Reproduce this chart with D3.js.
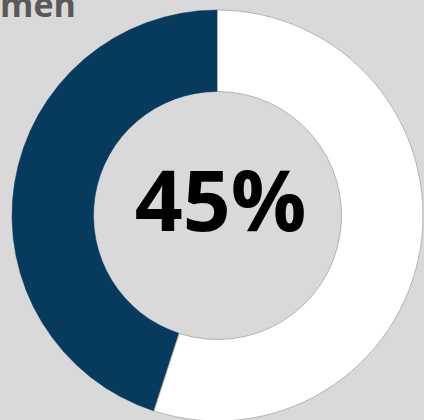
<!DOCTYPE html>
<html>
<head>
<meta charset="utf-8">
<script src="https://cdn.jsdelivr.net/npm/d3@7"></script>
<style>
  html, body { margin: 0; padding: 0; background: #d9d9d9; }
  svg { display: block; }
</style>
</head>
<body>
<div id="chart"></div>
<script>
// donut: one share against the rest
const labels = ['share', 'rest'];
const values = [45, 55];
const colors = ['#063b5d', '#ffffff'];
const title = 'men';
const centerLabel = '45%';

const W = 424, H = 420;
const cx = 217.5, cy = 215.5;
const outerR = 205.5, innerR = 124;

const svg = d3.select('#chart').append('svg')
  .attr('width', W).attr('height', H);

svg.append('rect').attr('width', W).attr('height', H).attr('fill', '#d9d9d9');

// share runs counter-clockwise from 12 o'clock
const pie = d3.pie().sort(null).value(d => d)
  .startAngle(2 * Math.PI).endAngle(0);

const arc = d3.arc().innerRadius(innerR).outerRadius(outerR);

const g = svg.append('g').attr('transform', `translate(${cx},${cy})`);

g.selectAll('path').data(pie(values)).join('path')
  .attr('d', arc)
  .attr('fill', (d, i) => colors[i])
  .attr('stroke', (d, i) => i === 0 ? colors[0] : '#b4b4b4')
  .attr('stroke-width', (d, i) => i === 0 ? 0.5 : 1);

g.append('text')
  .attr('x', 3).attr('y', 15)
  .attr('text-anchor', 'middle')
  .attr('font-family', '"Open Sans", sans-serif')
  .attr('font-weight', 700)
  .attr('font-size', 84)
  .attr('fill', '#000')
  .text(centerLabel);

svg.append('text')
  .attr('x', 0).attr('y', 17)
  .attr('font-family', '"Open Sans", sans-serif')
  .attr('font-weight', 700)
  .attr('font-size', 34)
  .attr('fill', '#595959')
  .text(title);
</script>
</body>
</html>
